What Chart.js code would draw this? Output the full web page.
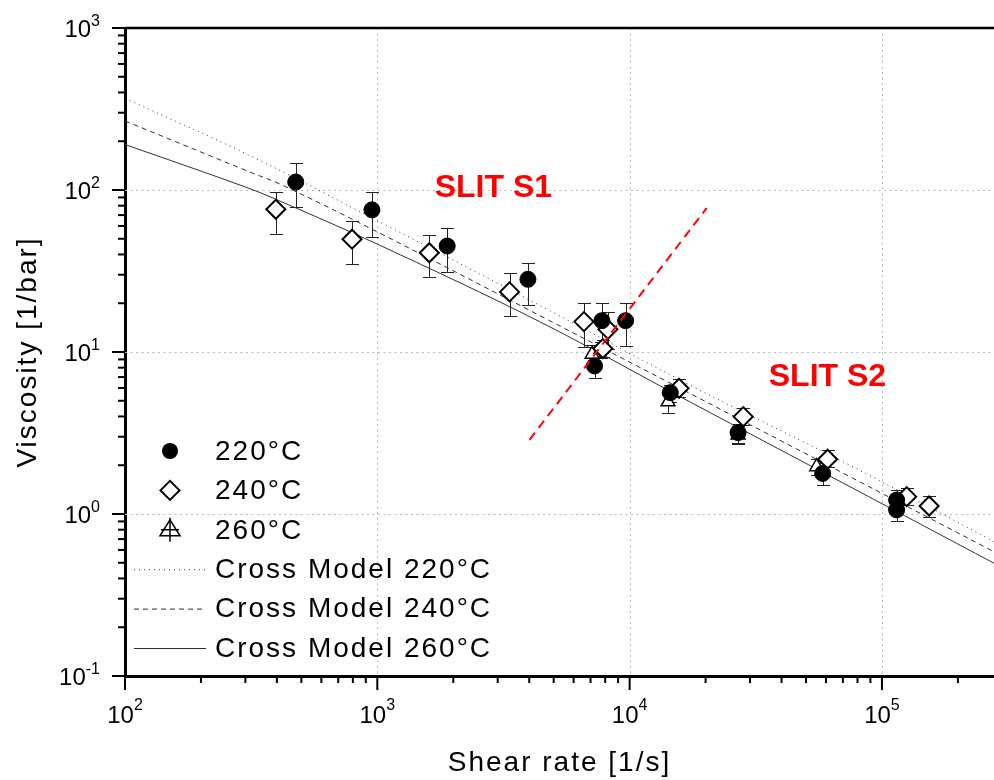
<!DOCTYPE html>
<html>
<head>
<meta charset="utf-8">
<script src="https://cdn.jsdelivr.net/npm/chart.js@4.4.1/dist/chart.umd.min.js"></script>
<style>
html,body{margin:0;padding:0;background:#fff;}
#wrap{width:994px;height:780px;position:relative;}
</style>
</head>
<body>
<div id="wrap"><canvas id="c" width="994" height="780"></canvas></div>
<script>
// ---------------- data ----------------
const seriesLabels = ['220°C', '240°C', '260°C', 'Cross Model 220°C', 'Cross Model 240°C', 'Cross Model 260°C'];

// 220 °C measurements (shear rate, viscosity, error-bar low/high)
const x220  = [475, 952, 1892, 3953, 7260, 7763, 9640, 14490, 26900, 58200, 114300, 114300];
const y220  = [112, 75.4, 45.1, 28.1, 8.2, 15.6, 15.6, 5.61, 3.18, 1.78, 1.22, 1.06];
const lo220 = [78.9, 51.5, 31.3, 19.5, 6.9, 11.1, 10.9, 4.9, 2.75, 1.5, 1.05, 0.9];
const hi220 = [146, 97.7, 58, 35.6, 9.5, 20.1, 20.1, 6.3, 3.6, 2.05, 1.4, 1.2];

// 240 °C measurements
const x240  = [396, 794, 1607, 3342, 6590, 8200, 7830, 15700, 28200, 60900, 125300, 153800];
const y240  = [76, 49.7, 41, 23.5, 15.4, 13.8, 10.5, 5.97, 3.99, 2.18, 1.28, 1.12];
const lo240 = [53.3, 34.9, 28.9, 16.7, 10.8, 10.5, 9.3, 5.3, 3.55, 1.95, 1.13, 0.96];
const hi240 = [97.7, 64.7, 52.7, 30.6, 20, 17.7, 11.8, 6.78, 4.49, 2.48, 1.45, 1.29];

// 260 °C measurements
const x260  = [7100, 7700, 14200, 26900, 55100, 114000];
const y260  = [9.7, 10.4, 4.93, 3.07, 1.96, 1.15];
const lo260 = [8.5, 9.2, 4.2, 2.7, 1.75, 1.0];
const hi260 = [11, 11.6, 5.7, 3.5, 2.2, 1.3];

// Cross model curves
const xModel220 = [100, 310, 1019, 4820, 17300, 74600, 278000];
const yModel220 = [368, 164, 63.7, 18.0, 6.25, 2.0, 0.675];
const xModel240 = [100, 310, 419, 1019, 4820, 17300, 74600, 278000];
const yModel240 = [267, 129.7, 107.4, 54.3, 15.6, 5.56, 1.70, 0.585];
const xModel260 = [100, 310, 431, 1019, 4395, 17300, 74600, 278000];
const yModel260 = [191, 102.4, 82.8, 45.7, 15.4, 4.93, 1.475, 0.497];

// red dashed separation line between slits
const xSlitLine = [4010, 20200];
const ySlitLine = [2.87, 77.4];

// axes
const xTickExponents = [2, 3, 4, 5];
const yTickExponents = [-1, 0, 1, 2, 3];
const xTitle = 'Shear rate [1/s]';
const yTitle = 'Viscosity [1/bar]';
const annotationTexts = ['SLIT S1', 'SLIT S2'];
const annotationX = [2884, 60800];
const annotationY = [103, 7.0];

// ---------------- chart ----------------
const FONT = "'Liberation Sans', Arial, Helvetica, sans-serif";
Chart.defaults.font.family = FONT;
Chart.defaults.color = '#000';
const pts = (xs, ys) => xs.map((v, i) => ({x: v, y: ys[i]}));
const LINE = '#303030';

const datasets = [
  {label: seriesLabels[0], data: pts(x220, y220), errLow: lo220, errHigh: hi220, showLine: false,
   pointStyle: 'circle', pointRadius: 8, backgroundColor: '#000', borderColor: '#000', borderWidth: 1, order: 1, kind: 'circle'},
  {label: seriesLabels[1], data: pts(x240, y240), errLow: lo240, errHigh: hi240, showLine: false,
   pointStyle: 'rectRot', pointRadius: 9.5, backgroundColor: '#fff', borderColor: '#000', borderWidth: 2, order: 2, kind: 'diamond'},
  {label: seriesLabels[2], data: pts(x260, y260), errLow: lo260, errHigh: hi260, showLine: false,
   pointStyle: 'triangle', pointRadius: 8, backgroundColor: '#fff', borderColor: '#000', borderWidth: 1.5, order: 3, kind: 'triangle'},
  {label: seriesLabels[3], data: pts(xModel220, yModel220), showLine: true, pointRadius: 0, borderColor: LINE, borderWidth: 1,
   borderDash: [1, 4], tension: 0.35, order: 4, kind: 'line'},
  {label: seriesLabels[4], data: pts(xModel240, yModel240), showLine: true, pointRadius: 0, borderColor: LINE, borderWidth: 1,
   borderDash: [5, 4], tension: 0.35, order: 5, kind: 'line'},
  {label: seriesLabels[5], data: pts(xModel260, yModel260), showLine: true, pointRadius: 0, borderColor: LINE, borderWidth: 1,
   tension: 0.35, order: 6, kind: 'line'},
  {label: '', data: pts(xSlitLine, ySlitLine), showLine: true, pointRadius: 0, borderColor: '#ff0000', borderWidth: 2,
   borderDash: [9, 6], order: 0, kind: 'none'}
];

const decor = {
  id: 'decor',
  beforeDraw(chart) { chart.ctx.letterSpacing = '2px'; },
  beforeDatasetsDraw(chart) {
    const {ctx, chartArea: a, scales: {x, y}} = chart;
    ctx.save();
    ctx.letterSpacing = '0px';
    // dotted grid at decades
    ctx.strokeStyle = '#b8b8b8'; ctx.lineWidth = 1; ctx.setLineDash([2, 3.5]);
    xTickExponents.forEach(e => {
      const px = Math.round(x.getPixelForValue(Math.pow(10, e))) + 0.5;
      if (px > a.left + 3 && px < a.right - 3) { ctx.beginPath(); ctx.moveTo(px, a.top); ctx.lineTo(px, a.bottom); ctx.stroke(); }
    });
    yTickExponents.forEach(e => {
      const py = Math.round(y.getPixelForValue(Math.pow(10, e))) + 0.5;
      if (py > a.top + 3 && py < a.bottom - 3) { ctx.beginPath(); ctx.moveTo(a.left, py); ctx.lineTo(a.right, py); ctx.stroke(); }
    });
    ctx.setLineDash([]);
    // top frame line
    ctx.strokeStyle = '#000'; ctx.lineWidth = 2.5;
    ctx.beginPath(); ctx.moveTo(a.left, a.top); ctx.lineTo(a.right, a.top); ctx.stroke();
    // tick marks (outward), majors + minors
    ctx.lineWidth = 2;
    const xe0 = xTickExponents[0], xe1 = xTickExponents[xTickExponents.length - 1] + 1;
    for (let e = xe0; e <= xe1; e++) {
      for (let k = 1; k <= 9; k++) {
        const v = k * Math.pow(10, e);
        if (v < x.min || v > x.max) continue;
        const px = x.getPixelForValue(v);
        const len = k === 1 ? 14 : 7;
        ctx.beginPath(); ctx.moveTo(px, a.bottom); ctx.lineTo(px, a.bottom + len); ctx.stroke();
      }
    }
    const ye0 = yTickExponents[0], ye1 = yTickExponents[yTickExponents.length - 1];
    for (let e = ye0; e <= ye1; e++) {
      for (let k = 1; k <= 9; k++) {
        const v = k * Math.pow(10, e);
        if (v < y.min * 0.999 || v > y.max * 1.001) continue;
        const py = y.getPixelForValue(v);
        const len = k === 1 ? 13 : 7;
        ctx.beginPath(); ctx.moveTo(a.left, py); ctx.lineTo(a.left - len, py); ctx.stroke();
      }
    }
    // tick labels 10^n
    const baseFont = '24px ' + FONT, expFont = '16px ' + FONT;
    ctx.fillStyle = '#000'; ctx.textBaseline = 'alphabetic'; ctx.textAlign = 'left';
    xTickExponents.forEach(e => {
      const px = x.getPixelForValue(Math.pow(10, e));
      ctx.font = baseFont; const wb = ctx.measureText('10').width;
      ctx.font = expFont; const we = ctx.measureText(String(e)).width;
      const left = px - (wb + we) / 2;
      const bl = a.bottom + 47;
      ctx.font = baseFont; ctx.fillText('10', left, bl);
      ctx.font = expFont; ctx.fillText(String(e), left + wb, bl - 13);
    });
    yTickExponents.forEach(e => {
      const py = y.getPixelForValue(Math.pow(10, e));
      ctx.font = baseFont; const wb = ctx.measureText('10').width;
      ctx.font = expFont; const we = ctx.measureText(String(e)).width;
      const right = a.left - 25;
      ctx.font = baseFont; ctx.fillText('10', right - we - wb, py + 8.5);
      ctx.font = expFont; ctx.fillText(String(e), right - we, py - 2);
    });
    // error bars
    ctx.strokeStyle = '#222'; ctx.lineWidth = 1;
    chart.data.datasets.forEach(ds => {
      if (!ds.errLow) return;
      ds.data.forEach((p, i) => {
        const px = Math.round(x.getPixelForValue(p.x)) + 0.5;
        const pl = Math.round(y.getPixelForValue(ds.errLow[i])) + 0.5;
        const ph = Math.round(y.getPixelForValue(ds.errHigh[i])) + 0.5;
        ctx.beginPath();
        ctx.moveTo(px, pl); ctx.lineTo(px, ph);
        ctx.moveTo(px - 6.5, pl); ctx.lineTo(px + 6.5, pl);
        ctx.moveTo(px - 6.5, ph); ctx.lineTo(px + 6.5, ph);
        ctx.stroke();
      });
    });
    ctx.restore();
  },
  afterDraw(chart) {
    const {ctx, chartArea: a, scales: {x, y}} = chart;
    ctx.save();
    // annotations
    ctx.letterSpacing = '0px';
    ctx.fillStyle = '#ff0000'; ctx.font = 'bold 32px ' + FONT;
    ctx.textAlign = 'center'; ctx.textBaseline = 'middle';
    annotationTexts.forEach((t, i) => {
      ctx.fillText(t, x.getPixelForValue(annotationX[i]), y.getPixelForValue(annotationY[i]));
    });
    // legend
    const lx = a.left + 9, ly = a.top + 423, row = 39.4;
    ctx.textAlign = 'left'; ctx.textBaseline = 'middle';
    ctx.font = '28px ' + FONT; ctx.letterSpacing = '2px'; ctx.fillStyle = '#000';
    let r = 0;
    chart.data.datasets.forEach(ds => {
      if (!ds.label) return;
      const yc = ly + r * row, mx = lx + 36;
      ctx.save();
      ctx.strokeStyle = ds.borderColor; ctx.fillStyle = ds.backgroundColor || '#000';
      if (ds.kind === 'circle') {
        ctx.beginPath(); ctx.arc(mx, yc, 8, 0, Math.PI * 2); ctx.fill();
      } else if (ds.kind === 'diamond') {
        ctx.lineWidth = 2; ctx.beginPath();
        ctx.moveTo(mx - 9.5, yc); ctx.lineTo(mx, yc - 9.5); ctx.lineTo(mx + 9.5, yc); ctx.lineTo(mx, yc + 9.5); ctx.closePath();
        ctx.fillStyle = '#fff'; ctx.fill(); ctx.stroke();
      } else if (ds.kind === 'triangle') {
        ctx.lineWidth = 1.5; ctx.strokeStyle = '#000';
        ctx.beginPath();
        ctx.moveTo(mx, yc - 10); ctx.lineTo(mx + 10, yc + 6); ctx.lineTo(mx - 10, yc + 6); ctx.closePath(); ctx.stroke();
        ctx.beginPath();
        ctx.moveTo(mx, yc - 12); ctx.lineTo(mx, yc + 12);
        ctx.moveTo(mx - 9, yc); ctx.lineTo(mx + 9, yc);
        ctx.stroke();
      } else if (ds.kind === 'line') {
        ctx.lineWidth = 1; ctx.setLineDash(ds.borderDash || []);
        ctx.beginPath(); ctx.moveTo(lx, yc + 0.5); ctx.lineTo(lx + 72, yc + 0.5); ctx.stroke();
      }
      ctx.restore();
      ctx.fillText(ds.label, lx + 81, yc + 1);
      r++;
    });
    ctx.restore();
  }
};

new Chart(document.getElementById('c'), {
  type: 'scatter',
  data: {datasets},
  options: {
    responsive: false,
    animation: false,
    devicePixelRatio: 1,
    layout: {autoPadding: false, padding: {top: 28, right: 0, bottom: 0, left: 0}},
    plugins: {legend: {display: false}, tooltip: {enabled: false}},
    scales: {
      x: {
        type: 'logarithmic', position: 'bottom', min: 100, max: 278000,
        grid: {display: false}, ticks: {display: false},
        border: {display: true, color: '#000', width: 3},
        title: {display: true, text: xTitle, color: '#000', font: {size: 28, family: FONT}, padding: {top: 0, bottom: 0}},
        afterFit(s) { s.height = 104; }
      },
      y: {
        type: 'logarithmic', position: 'left', min: 0.1, max: 1000,
        grid: {display: false}, ticks: {display: false},
        border: {display: true, color: '#000', width: 3},
        title: {display: true, text: yTitle, color: '#000', font: {size: 28, family: FONT}, padding: {top: 11, bottom: 0}},
        afterFit(s) { s.width = 125; }
      }
    }
  },
  plugins: [decor]
});
</script>
</body>
</html>
